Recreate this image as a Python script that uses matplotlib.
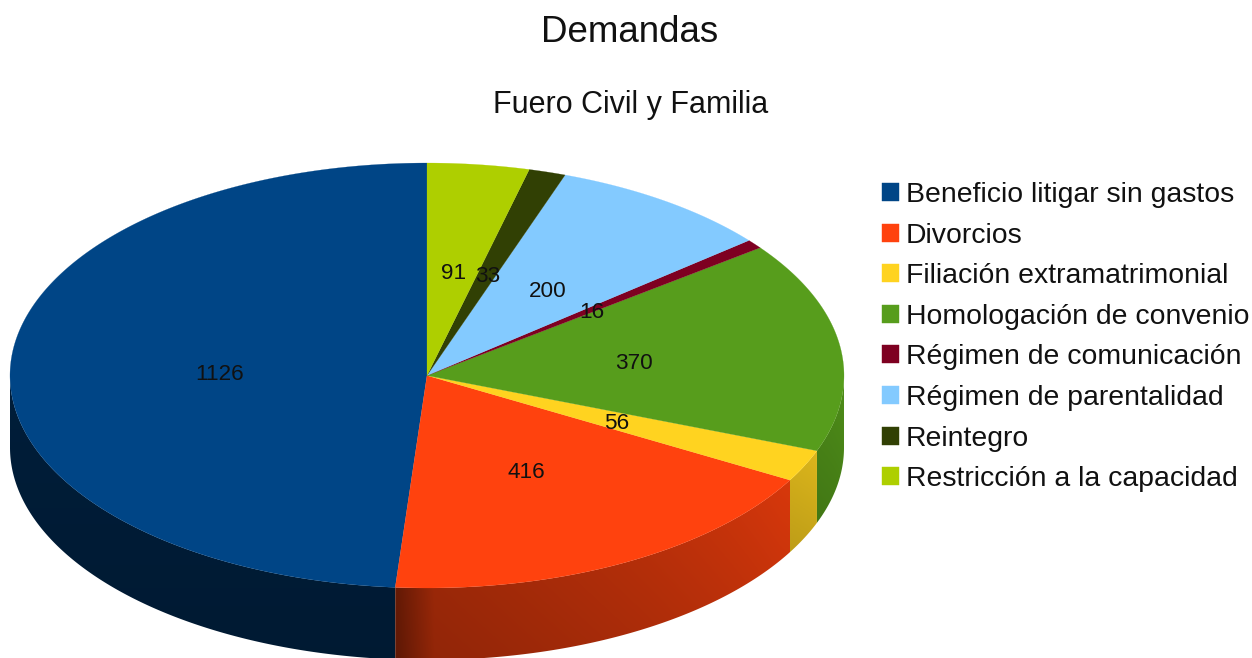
import numpy as np
import matplotlib
matplotlib.use("Agg")
import matplotlib.pyplot as plt
from matplotlib.patches import Polygon, Patch

plt.rcParams['font.family'] = ['Liberation Sans', 'DejaVu Sans']

categories = ["Beneficio litigar sin gastos", "Divorcios", "Filiación extramatrimonial",
              "Homologación de convenio", "Régimen de comunicación",
              "Régimen de parentalidad", "Reintegro", "Restricción a la capacidad"]
values = [1126, 416, 56, 370, 16, 200, 33, 91]
colors = ["#004586", "#ff420e", "#ffd320", "#579d1c", "#7e0021", "#83caff", "#314004", "#aecf00"]
title = "Demandas"
subtitle = "Fuero Civil y Familia"

W, H = 1252, 658
CX, CY, RX, RY, DEPTH = 427, 375.5, 417, 212.5, 72

fig = plt.figure(figsize=(W / 100, H / 100), dpi=100)
ax = fig.add_axes([0, 0, 1, 1])
ax.axis('off')


def pt(phi_deg, f=1.0, dy=0.0):
    """Angle measured counter-clockwise from the top of the ellipse."""
    p = np.radians(phi_deg)
    return CX - RX * f * np.sin(p), CY - RY * f * np.cos(p) + dy


def side_shade(phi):
    return np.interp(phi, [0, 176, 181, 212, 238, 275], [.43, .43, .65, .75, .84, .92])


total = sum(values)
edges = np.concatenate([[0], np.cumsum(values)]) / total * 360

# side wall: a smooth shaded image clipped to each visible segment's outline
for c, a0, a1 in zip(colors, edges[:-1], edges[1:]):
    lo, hi = max(a0, 90), min(a1, 270)
    if lo >= hi:
        continue
    sub = np.linspace(lo, hi, max(int(hi - lo) * 3, 8))
    outline = [pt(a) for a in sub] + [pt(a, dy=DEPTH) for a in sub[::-1]]
    xs, ys = zip(*outline)
    x0, x1, y0, y1 = min(xs), max(xs), min(ys), max(ys)
    nx, ny = max(int(x1 - x0), 2), max(int(y1 - y0), 2)
    xc = np.linspace(x0, x1, nx)
    # angle of each pixel column on the ellipse, front half
    phi = 180 + np.degrees(np.arcsin(np.clip((xc - CX) / RX, -1, 1)))
    shade = side_shade(phi)
    vert = np.linspace(1.0, 0.88, ny)[:, None]
    rgb = np.array(matplotlib.colors.to_rgb(c))
    img = (shade[None, :] * vert)[..., None] * rgb
    clip = Polygon(outline, closed=True, transform=ax.transData, facecolor='none', edgecolor='none')
    ax.add_patch(clip)
    im = ax.imshow(img, extent=(x0, x1, y1, y0), aspect='auto', interpolation='bilinear', zorder=2)
    im.set_clip_path(clip)

# top face
for c, a0, a1 in zip(colors, edges[:-1], edges[1:]):
    arc = np.linspace(a0, a1, max(int(a1 - a0) * 2, 4))
    poly = [(CX, CY)] + [pt(a) for a in arc]
    ax.add_patch(Polygon(poly, closed=True, facecolor=c, edgecolor=c, linewidth=0.15, zorder=3))

# value labels
for v, a0, a1 in zip(values, edges[:-1], edges[1:]):
    x, y = pt((a0 + a1) / 2, 0.5)
    ax.text(x + 1, y + 3, str(v), ha='center', va='center', fontsize=16.2, color='#111111', zorder=5)

ax.text(629.5, 32, title, ha='center', va='center', fontsize=26.5, color='#111111')
ax.text(631, 105, subtitle, ha='center', va='center', fontsize=22, color='#111111')

handles = [Patch(facecolor=c, edgecolor=c, linewidth=0.3) for c in colors]
ax.legend(handles, categories, loc='upper left', bbox_to_anchor=(882 / W, 1 - 182 / H),
          bbox_transform=fig.transFigure, frameon=False, fontsize=20.4,
          handlelength=0.6, handleheight=0.6, handletextpad=0.25,
          labelspacing=0.515, borderpad=0, borderaxespad=0, labelcolor='#111111')

ax.set_xlim(0, W)
ax.set_ylim(H, 0)
fig.savefig("out.png", dpi=100)
